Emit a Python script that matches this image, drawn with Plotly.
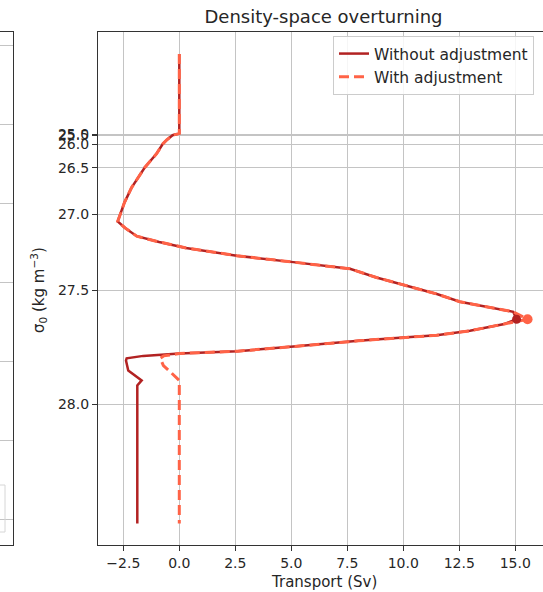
import numpy as np
import plotly.graph_objects as go

# ---- data ----
sigma = [23.0, 24.0, 24.6, 25.2, 25.5, 25.84, 26.0, 26.25, 26.5, 26.75, 26.9,
         27.06, 27.11, 27.17, 27.21, 27.25, 27.30, 27.34, 27.38, 27.43, 27.47,
         27.52, 27.56, 27.585, 27.61, 27.646, 27.67, 27.70, 27.72, 27.73,
         27.745, 27.77, 27.79, 27.80, 27.81, 27.82, 27.83, 27.85, 27.87, 27.91,
         27.93, 28.39]

transport_without = [0.0, 0.0, 0.0, -0.1, -0.3, -0.56, -0.74, -1.01, -1.55, -2.13, -2.45,
                     -2.75, -2.42, -1.90, -0.9, 0.3, 2.56, 5.09, 7.62, 8.8, 10.0,
                     11.5, 12.53, 13.72, 14.91, 15.06, 14.46, 12.98, 11.49, 10.0,
                     8.0, 5.1, 2.6, 0.0, -1.61, -2.35, -2.38, -2.33, -2.28, -1.68,
                     -1.875, -1.875]

transport_with = [0.0, 0.0, 0.0, -0.1, -0.3, -0.56, -0.74, -1.01, -1.55, -2.13, -2.45,
                  -2.75, -2.42, -1.90, -0.9, 0.3, 2.56, 5.09, 7.62, 8.8, 10.0,
                  11.5, 12.53, 13.72, 14.91, 15.55, 14.46, 12.98, 11.49, 10.0,
                  8.0, 5.1, 2.6, 0.0, -0.7, -0.86, -0.82, -0.71, -0.47, 0.0,
                  0.0, 0.0]

x_ticks = [-2.5, 0.0, 2.5, 5.0, 7.5, 10.0, 12.5, 15.0]
sigma_ticks = [25.0, 25.5, 26.0, 26.5, 27.0, 27.5, 28.0]

series_names = ["Without adjustment", "With adjustment"]


def stretch(s):
    """Density axis scale: cubic stretch about sigma = 25."""
    return (np.asarray(s, dtype=float) - 25.0) ** 3


FONT = "DejaVu Sans"
TXT = "#262626"
GRID = "#c4c4c4"
SPINE = "#333333"
W, H = 543, 592
ML, MT, MB = 98, 32, 47
PH = H - MT - MB

y_sig = stretch(sigma)

fig = go.Figure()
fig.add_trace(go.Scatter(
    x=transport_without, y=y_sig, mode="lines", name=series_names[0],
    line=dict(color="#B22222", width=2.5)))
fig.add_trace(go.Scatter(
    x=transport_with, y=y_sig, mode="lines", name=series_names[1],
    line=dict(color="#FF6347", width=3, dash="10px,5px")))

i1 = int(np.argmax(transport_without))
i2 = int(np.argmax(transport_with))
fig.add_trace(go.Scatter(
    x=[transport_without[i1]], y=[y_sig[i1]], mode="markers", showlegend=False,
    marker=dict(color="#B22222", size=9), hoverinfo="skip"))
fig.add_trace(go.Scatter(
    x=[transport_with[i2]], y=[y_sig[i2]], mode="markers", showlegend=False,
    marker=dict(color="#FF6347", size=10), hoverinfo="skip"))

# neighbouring panel edge (cropped in the reference)
fig.add_trace(go.Scatter(x=[None], y=[None], xaxis="x2", yaxis="y2",
                         showlegend=False, hoverinfo="skip"))

fig.update_layout(
    width=W, height=H,
    margin=dict(l=0, r=0, t=MT, b=MB, pad=0),
    paper_bgcolor="white", plot_bgcolor="white",
    font=dict(family=FONT, size=14, color=TXT),
    showlegend=True,
    legend=dict(x=333 / W, y=1 - 4 / PH, xanchor="left", yanchor="top",
                bgcolor="rgba(255,255,255,0.85)", bordercolor="#cccccc", borderwidth=1,
                font=dict(family=FONT, size=15.5, color=TXT),
                tracegroupgap=2, itemwidth=30),
    title=dict(text="Density-space overturning", x=323.5 / W, xanchor="center",
               y=1 - 17 / H, yanchor="middle", xref="paper",
               font=dict(family=FONT, size=18, color=TXT)),
    xaxis=dict(domain=[ML / W, 1], anchor="y", range=[-3.63, 16.24],
               tickvals=x_ticks, tickformat=".1f",
               showgrid=True, gridcolor=GRID, gridwidth=1.1,
               showline=True, mirror=True, linecolor=SPINE, linewidth=1.2,
               ticks="outside", ticklen=5, tickcolor=SPINE, tickwidth=1.1,
               zeroline=False, tickfont=dict(size=14, color=TXT)),
    yaxis=dict(anchor="x", range=[41.1, -10.2],
               tickvals=list(stretch(sigma_ticks)),
               ticktext=["%.1f" % s for s in sigma_ticks],
               showgrid=True, gridcolor=GRID, gridwidth=1.1,
               showline=True, mirror=False, linecolor=SPINE, linewidth=1.2,
               ticks="outside", ticklen=5, tickcolor=SPINE, tickwidth=1.1,
               zeroline=False, tickfont=dict(size=14, color=TXT)),
    xaxis2=dict(domain=[0, 13 / W], anchor="y2", range=[0, 1],
                showgrid=False, showticklabels=False, ticks="",
                showline=True, mirror=True, linecolor=SPINE, linewidth=1.2,
                zeroline=False),
    yaxis2=dict(anchor="x2", side="right", range=[0, PH / 79.0],
                tick0=0.329, dtick=1, showgrid=True, gridcolor=GRID, gridwidth=1.1,
                showticklabels=False, ticks="", showline=True, linecolor=SPINE,
                linewidth=1.2, zeroline=False),
    annotations=[
        dict(text="Transport (Sv)", xref="paper", yref="paper",
             x=323.5 / W, y=-(582 - (H - MB)) / PH, xanchor="center", yanchor="middle",
             showarrow=False, font=dict(family=FONT, size=15, color=TXT)),
        dict(text="σ<sub>0</sub> (kg m<sup>−3</sup>)", xref="paper", yref="paper",
             x=38 / W, y=((H - MB) - 290) / PH, xanchor="center", yanchor="middle",
             textangle=-90, showarrow=False, font=dict(family=FONT, size=15, color=TXT)),
    ],
    shapes=[
        dict(type="rect", xref="paper", yref="paper",
             x0=-20 / W, x1=5 / W, y0=((H - MB) - 532) / PH, y1=((H - MB) - 485) / PH,
             line=dict(color="#d6d6d6", width=1), fillcolor="rgba(0,0,0,0)"),
    ],
)

fig.write_html(
    "out.html",
    config={"displayModeBar": False},
    post_script="document.body.style.margin='0';document.body.style.padding='0';"
                "document.documentElement.style.overflow='hidden';",
)
